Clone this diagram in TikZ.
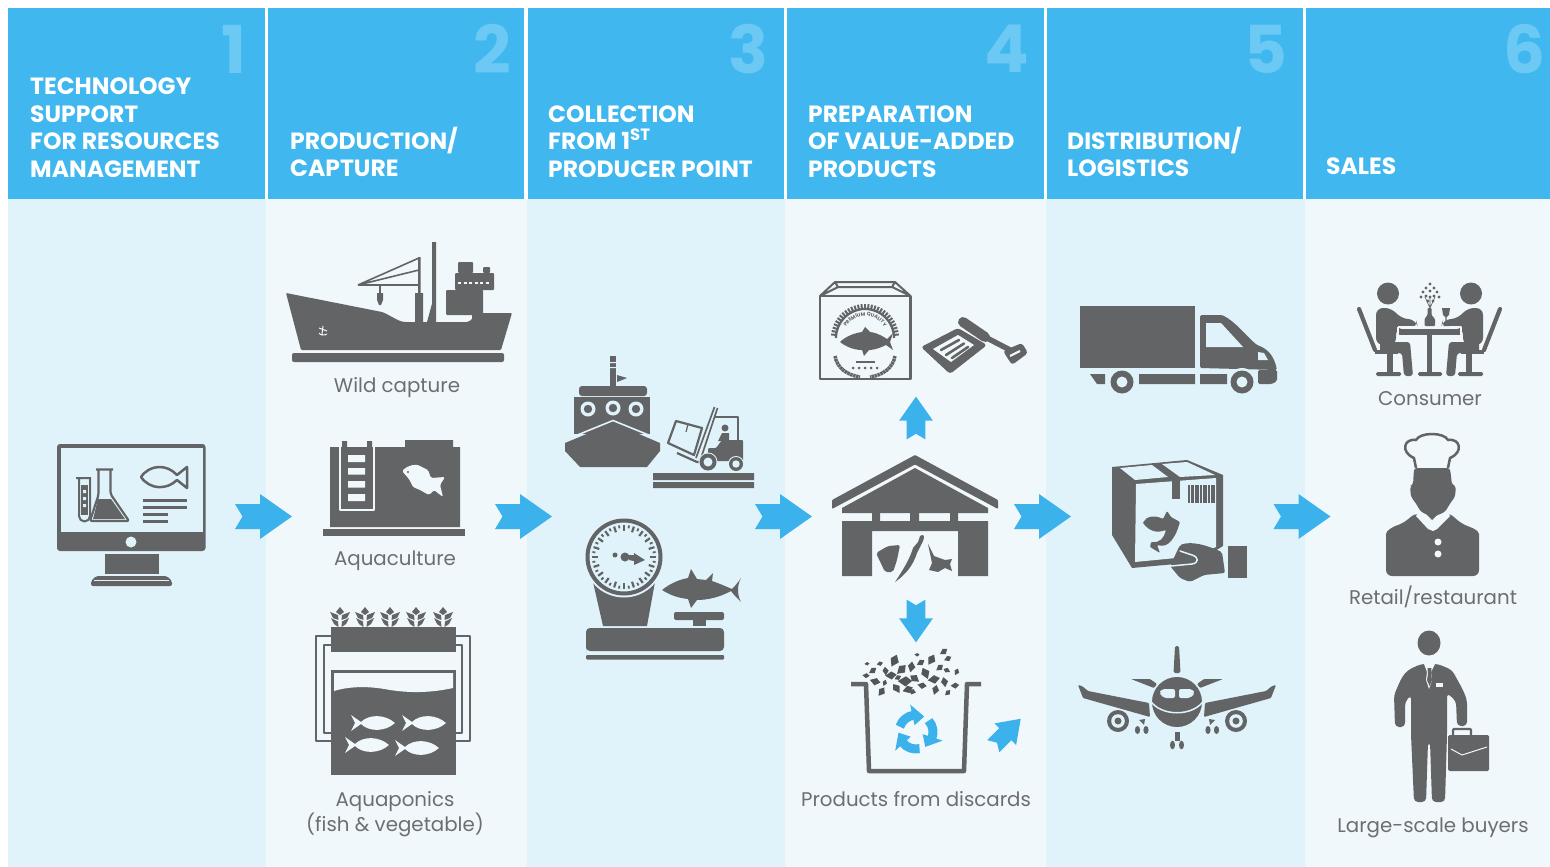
\documentclass[tikz,border=0pt]{standalone}
\usepackage{fontspec}
\setmainfont{Poppins}
\usetikzlibrary{decorations.text}
\definecolor{headblue}{HTML}{41B7EF}
\definecolor{numblue}{HTML}{6CC9F3}
\definecolor{paneA}{HTML}{E0F3FB}
\definecolor{paneB}{HTML}{F0F8FC}
\definecolor{icon}{HTML}{636466}
\definecolor{labelgray}{HTML}{6D6E71}
\definecolor{arrowblue}{HTML}{3CB2EC}
\tikzset{
  headbox/.style={fill=headblue,draw=none},
  headtext/.style={text=white,anchor=west,align=left,inner sep=0pt,font=\fontsize{23.5}{27.5}\selectfont\bfseries},
  numtext/.style={text=numblue,anchor=center,inner sep=0pt,font=\fontsize{66}{66}\selectfont\bfseries},
  labeltext/.style={text=labelgray,anchor=center,inner sep=0pt,font=\fontsize{19.8}{23}\selectfont},
  ic/.style={fill=icon,draw=none},
  icl/.style={draw=icon,fill=none},
}
\newcommand{\bluearrow}[4]{\begin{scope}[shift={(#1,#2)},rotate=#3,scale=#4]
  \fill[arrowblue] (-28.5,-12.5) -- (-3.5,-12.5) -- (-3.5,-22.5) -- (28.5,0) -- (-3.5,22.5) -- (-3.5,12.5) -- (-28.5,12.5) -- (-21,0) -- cycle;
\end{scope}}
\newcommand{\fishat}[5]{\begin{scope}[shift={(#1,#2)},xscale=#3,yscale=#4]
  \fill[#5] (22,0) .. controls (12,-9) and (-4,-9) .. (-12,-1) -- (-22,-8) -- (-18,0) -- (-22,8) -- (-12,1) .. controls (-4,9) and (12,9) .. (22,0) -- cycle;
\end{scope}}
\newcommand{\plantat}[1]{\begin{scope}[shift={(#1,607)}]
  \fill[icon] (0,0) -- (4,5) -- (0,8) -- (-4,5) -- cycle
   (-10,5) -- (-2,8) -- (-1.5,13) -- (-7,11) -- cycle (10,5) -- (2,8) -- (1.5,13) -- (7,11) -- cycle
   (-9,11) -- (-2,14.5) -- (-1.5,20) -- (-6,17) -- cycle (9,11) -- (2,14.5) -- (1.5,20) -- (6,17) -- cycle;
\end{scope}}
\begin{document}
\begin{tikzpicture}[x=1pt,y=-1pt,line join=round]
\useasboundingbox (0,0) rectangle (1550,867);
\fill[white] (0,0) rectangle (1550,867);
% panes
\fill[paneA] (8,199) rectangle (266,867);
\fill[paneB] (266,199) rectangle (527,867);
\fill[paneA] (527,199) rectangle (785,867);
\fill[paneB] (785,199) rectangle (1046,867);
\fill[paneA] (1046,199) rectangle (1305,867);
\fill[paneB] (1305,199) rectangle (1550,867);
% headers
\fill[headbox] (8,8) rectangle (265,199);
\fill[headbox] (268,8) rectangle (524,199);
\fill[headbox] (528,8) rectangle (784,199);
\fill[headbox] (787,8) rectangle (1044,199);
\fill[headbox] (1047,8) rectangle (1303,199);
\fill[headbox] (1306,8) rectangle (1550,199);
\node[numtext] (n1) at (234,49) {1};
\node[numtext] (n2) at (492,49) {2};
\node[numtext] (n3) at (748,49) {3};
\node[numtext] (n4) at (1007,49) {4};
\node[numtext] (n5) at (1266,49) {5};
\node[numtext] (n6) at (1525,49) {6};
\node[headtext] (h1) at (30,127.5) {TECHNOLOGY\\SUPPORT\\FOR RESOURCES\\MANAGEMENT};
\node[headtext] (h2) at (290,152) {PRODUCTION/\\CAPTURE};
\node[headtext] (h3) at (548,141.5) {COLLECTION\\FROM 1\textsuperscript{ST}\\PRODUCER POINT};
\node[headtext] (h4) at (808,141.5) {PREPARATION\\OF VALUE-ADDED\\PRODUCTS};
\node[headtext] (h5) at (1067,152) {DISTRIBUTION/\\LOGISTICS};
\node[headtext] (h6) at (1326,166) {SALES};
% labels
\node[labeltext] (l1) at (397,387.5) {Wild capture};
\node[labeltext] (l2) at (395,560.5) {Aquaculture};
\node[labeltext,align=center] (l3) at (395,814) {Aquaponics\\(fish \& vegetable)};
\node[labeltext] (l4) at (916,799) {Products from discards};
\node[labeltext] (l5) at (1430,399) {Consumer};
\node[labeltext] (l6) at (1433,597) {Retail/restaurant};
\node[labeltext] (l7) at (1433,827.5) {Large-scale buyers};
% main arrows
\bluearrow{263.5}{516.5}{0}{1}
\bluearrow{523.5}{516.5}{0}{1}
\bluearrow{783.5}{516.5}{0}{1}
\bluearrow{1042.5}{516.5}{0}{1}
\bluearrow{1302}{516.5}{0}{1}
\bluearrow{916}{418}{90}{.75}
\bluearrow{916}{621}{-90}{.75}
\bluearrow{1007}{732.5}{45}{.68}
% ===== monitor
\fill[ic,rounded corners=3] (57,444) rectangle (205.5,551);
\fill[paneA] (60.5,448) rectangle (202.5,532);
\fill[paneA] (131,542) circle (5.5);
\fill[ic] (105,554) rectangle (159,574);
\fill[ic,rounded corners=2] (96,576) -- (167,576) -- (172,581) -- (172,586) -- (91,586) -- (91,581) -- cycle;
\draw[paneA,line width=.8] (94,580.5) -- (169,580.5);
% tube and flask
\draw[icl,line width=2] (76,478) -- (91,478) (79,478) -- (79,516) arc[start angle=180,end angle=0,radius=5.5] -- (90,478);
\fill[ic] (81,485) rectangle (88,515);
\fill[paneA] (83,490) rectangle (86,493) (83,497) rectangle (86,500) (83,504) rectangle (86,507);
\fill[paneA,rounded corners=2] (95,469) -- (113,469) -- (110,472) -- (110,490) -- (129,520) -- (89,520) -- (98,500) -- (98,472) -- cycle;
\draw[icl,line width=2.2,rounded corners=2] (96,469.5) -- (113,469.5) (98.5,470) -- (98.5,495) -- (90,521) -- (129,521) -- (110.5,494) -- (110.5,470);
\fill[ic] (98,499) -- (111,499) -- (125,519) -- (93,519) -- cycle;
% fish outline
\draw[icl,line width=2.5] (141,477) .. controls (150,464) and (167,464) .. (177,475) -- (187,467) -- (187,488) -- (177,480) .. controls (167,490) and (150,490) .. (141,477) -- cycle;
\draw[icon,line width=3] (143,500) -- (187,500) (143,507) -- (187,507) (143,514) -- (168,514) (143,521) -- (168,521);
% ===== ship
\fill[ic,rounded corners=1] (286,293) -- (382,312) .. controls (392,316) and (398,322) .. (407,322) -- (466,322) .. controls (472,322) and (474,313) .. (481,313) -- (512,313) -- (501,350) -- (301,350) -- cycle;
\fill[ic,rounded corners=2] (292,353) rectangle (504,362);
\fill[ic] (432,242) rectangle (436,322) (415,293) rectangle (423,322) (418,257) rectangle (420.5,295);
\fill[ic] (433,300) -- (436,300) -- (432,322) -- (427,322) -- cycle;
\draw[icon,line width=1.6] (358,285) -- (419,258) (358,285) -- (419,270) (358,285) -- (419,285) (380,285) -- (380,293);
\fill[ic] (377,293) -- (383,293) -- (383,300) -- (381,305) -- (379,305) -- (377,300) -- cycle;
\fill[ic,rounded corners=1] (446,290) rectangle (483,315) (455,273) rectangle (494,290) (458,262) rectangle (473,273) (483,267) rectangle (490,273);
\fill[ic] (472,310) rectangle (482,322);
\draw[paneB,line width=1.3,dash pattern=on 3 off 2.5] (458,283) -- (490,283);
\draw[paneB,line width=1] (319,328) -- (327,331) (323,326) -- (322,334) (319,333) .. controls (320,335) and (324,336) .. (327,334);
% ===== aquaculture
\fill[ic] (330,447) -- (405,447) -- (405,440) -- (453,440) -- (453,447) -- (460,447) -- (460,527) -- (330,527) -- cycle;
\fill[ic] (323,529) rectangle (465,536);
\fill[ic] (342,441) rectangle (347,448) (367,441) rectangle (372,448);
\draw[paneB,line width=1.2] (340,445) -- (340,510) -- (374,510) -- (374,445);
\fill[paneB] (348,455) rectangle (365,462) (348,468) rectangle (365,474.5) (348,481) rectangle (365,487.5) (348,494) rectangle (365,501);
\draw[icon,line width=1.2] (345,507) -- (369,507);
\fill[paneB,rounded corners=1.5] (402,471) .. controls (408,465) and (416,464) .. (420,466) -- (428,470) -- (431,478) -- (445,477) -- (440,485) -- (443,497) -- (434,490) -- (429,495) -- (420,490) -- (413,487) -- (409,479) -- cycle;
\fill[icon] (408,472) circle (1.1);
% ===== aquaponics
\foreach \px in {340,365,390,416,443} {\plantat{\px}}
\draw[icl,line width=2.8] (331,636) -- (316,636) -- (316,741) -- (331,741) (331,645) -- (324,645) -- (324,733) -- (331,733);
\draw[icl,line width=2.8] (456,636) -- (470,636) -- (470,741) -- (456,741) (456,645) -- (462,645) -- (462,733) -- (456,733);
\fill[ic] (331,627) rectangle (456,652);
\fill[ic] (331,670) rectangle (456,775);
\fill[paneB] (334,673) -- (453,673) -- (453,688) .. controls (430,693) and (410,693) .. (390,690) .. controls (370,686) and (350,686) .. (334,691) -- cycle;
\fishat{373}{723}{1}{1}{paneB}
\fishat{424}{723}{1}{1}{paneB}
\fishat{367}{745}{1}{1}{paneB}
\fishat{417}{748}{1}{1}{paneB}
% ===== boat
\fill[ic] (610,356) rectangle (616,386);
\fill[paneA] (610,362) rectangle (616,363) (610,367) rectangle (616,368);
\fill[ic] (617,375) -- (627,378) -- (617,382) -- cycle;
\fill[ic,rounded corners=3] (579,386) rectangle (647,396);
\fill[ic] (574,397) rectangle (650,434);
\foreach \hx/\hy in {588/409,613/408,636/409} {\fill[paneA] (\hx,\hy) circle (7.5); \fill[icon] (\hx,\hy) circle (4.2);}
\fill[ic] (613,423) -- (660,443) -- (660,451) -- (647,467) -- (580,467) -- (565,451) -- (565,443) -- cycle;
\draw[paneA,line width=1.6] (570,438) -- (613,420.5) -- (656,438);
% forklift
\fill[ic] (653,473) rectangle (754,480) (653,482) rectangle (754,488);
\draw[icon,line width=2.8] (715,417) -- (738,417) -- (738,442);
\fill[ic,rounded corners=1] (722,440) -- (743,440) -- (743,461) -- (708,461) -- (708,448) -- (716,448) -- cycle;
\fill[ic] (725,428) circle (3.5);
\fill[ic] (718,441) -- (722,433) -- (729,433) -- (729,441) -- cycle;
\draw[paneA,line width=2.6] (715,408) -- (697,458);
\draw[icon,line width=1.7] (714.5,407) -- (696,458) (717.5,408) -- (701,458);
\draw[icon,line width=2.2] (677,453) -- (697,462) -- (708,462);
\fill[paneA] (676,421) -- (702,428) -- (694,455) -- (668,443) -- cycle;
\draw[icl,line width=2.2] (676,421) -- (702,428) -- (694,455) -- (668,443) -- cycle;
\draw[icon,line width=1.2] (688,424) -- (686,432);
\fill[paneA] (708,462) circle (9.5);\fill[icon] (708,462) circle (8.5);\fill[paneA] (708,462) circle (4.5);
\fill[paneA] (736,464) circle (8);\fill[icon] (736,464) circle (7);\fill[paneA] (736,464) circle (3.7);
% ===== scale
\fill[ic] (593,582) -- (655,582) -- (647,626) -- (603,626) -- cycle;
\fill[paneA] (624,557) circle (40.5);
\draw[icl,line width=4] (624,557) circle (36.5);
\foreach \ta in {0,18,...,342} {\draw[icon,line width=2.2] (624,557) ++(\ta:32) -- ++(\ta:-6);}
\foreach \ta in {9,27,...,351} {\draw[icon,line width=1.8] (624,557) ++(\ta:32) -- ++(\ta:-3);}
\fill[ic] (625,557) circle (4.5) (615,555) circle (2.5);
\fill[ic] (629,555) -- (634,555) -- (634,553) -- (645,560) -- (634,565) -- (634,561) -- (629,560) -- cycle;
\fill[ic,rounded corners=4] (586,650) -- (586,628) -- (724,628) -- (724,651) -- (586,651) -- cycle;
\fill[ic,rounded corners=1] (586,655) rectangle (724,659.5);
\fill[ic,rounded corners=2] (674,612) rectangle (724,620);
\fill[ic] (693,619) rectangle (706,626);
\fill[ic] (662,590) .. controls (672,582) and (682,579) .. (688,578) -- (691,569) -- (697,579) -- (706,580) -- (713,573) -- (712,581) .. controls (718,583) and (725,586) .. (732,589) .. controls (736,585) and (739,581) .. (741,578) .. controls (737,585) and (737,595) .. (741,602) .. controls (737,598) and (734,595) .. (731,591) .. controls (720,597) and (708,600) .. (697,600) -- (691,608) -- (688,599) .. controls (678,598) and (670,595) .. (662,590) -- cycle;
% ===== value-added box
\draw[icl,line width=2.8] (820,296) rectangle (910.5,379);
\draw[icl,line width=2] (820,296) -- (835,282) -- (895,282) -- (910.5,296) (835,282) -- (838,287) -- (892,287) -- (895,282) (838,287) -- (820,296) (892,287) -- (910.5,296);
\draw[icon,line width=2.2] (836,338) arc[start angle=180,end angle=360,radius=29];
\foreach \ga in {186,192,...,354} {\draw[icon,line width=2] (865,338) ++(\ga:29) -- ++(\ga:5);}
\path[decorate,decoration={text along path,text={|\fontsize{5}{5}\selectfont\bfseries\color{icon}|PREMIUM QUALITY},text align={center}}] (843,338) arc[start angle=180,end angle=360,radius=22];
\fill[ic] (865,327) -- (870,332) .. controls (878,333) and (884,337) .. (887,339) -- (893,333) -- (890,342) -- (893,350) -- (886,345) .. controls (880,348) and (874,350) .. (869,350) -- (864,356) -- (862,350) .. controls (853,350) and (845,346) .. (840,342) .. controls (846,336) and (855,333) .. (862,332) -- cycle;
\foreach \da in {0,1,2,3,4} {\fill[ic] (853+\da*6,368) circle (1.5);}
\fill[ic] (856,361) rectangle (875,363);
\draw[icon,line width=3.5,dash pattern=on 2.5 off .6] (835,356) .. controls (837,368) and (847,375) .. (860,377);
\draw[icon,line width=3.5,dash pattern=on 2.5 off .6] (895,356) .. controls (893,368) and (883,375) .. (870,377);
% sardine can
\fill[ic,rounded corners=3] (921,347) -- (958,328) -- (987,345) -- (950,374) -- cycle;
\fill[paneB] (933,349) -- (958,335) -- (974,345) -- (951,362) -- cycle;
\draw[icon,line width=2.6,line cap=round] (941,350) -- (959,340) (946,355) -- (964,343.5) (952,358) -- (968,347);
\draw[icon,line width=10,line cap=round] (963,322) -- (985,337);
\draw[icon,line width=5.5] (985,337) -- (1012,351);
\fill[ic,rounded corners=3] (1003,351) -- (1022,343) -- (1028,353) -- (1012,365) -- cycle;
\draw[paneB,line width=2.2] (1010,356) -- (1020,351);
% warehouse
\fill[ic,rounded corners=1] (915,455) -- (998,500) -- (998,509) -- (915,464.5) -- (832,509) -- (832,500) -- cycle;
\fill[ic] (915,468) -- (988,508) -- (988,513) -- (842,513) -- (842,508) -- cycle;
\fill[ic] (872,513) rectangle (880,521) (910,513) rectangle (919,521) (950,513) rectangle (958,521);
\fill[ic] (842,521) rectangle (988,531) (842,531) rectangle (872,576) (958,531) rectangle (988,576);
\fill[ic,rounded corners=2] (876,553) -- (888,546) -- (900,545) -- (897,560) -- (893,572) -- (885,572) -- cycle;
\fill[ic] (895,582) .. controls (905,567) and (910,558) .. (913,548) -- (918,542) -- (920,536) .. controls (924,533) and (925,537) .. (923,541) -- (919,549) -- (917,553) .. controls (913,566) and (905,575) .. (895,582) -- cycle;
\fill[ic] (928,544) -- (934,556) -- (945,560) -- (952,559) -- (950,564) -- (952,571) -- (945,568) -- (938,572) -- (929,570) -- (932,563) -- cycle;
% ===== bucket
\draw[icl,line width=4.5] (851,684) -- (866,684) -- (869,771) -- (964,771) -- (967,684) -- (981,684);
\foreach \dx/\dy/\da/\ds in {866/676/10/1.0,873/671/50/1.2,875/682/0/1.5,880/664/30/.9,882/692/70/1.4,886/671/110/1.2,891/676/20/1.6,895/661/80/1.8,897/688/140/1.5,902/670/60/1.7,905/682/15/2,908/690/35/1.5,912/667/95/1.5,915/678/160/1.5,921/663/45/1.2,922/686/5/1.3,926/673/130/1.7,932/660/75/1.6,934/680/25/1.7,936/690/90/1.4,940/668/55/1.2,945/682/115/1.4,948/659/40/1.1,947/670/170/1,955/686/20/1.2,957/672/80/1,948/693/60/1,867/664/20/.7,917/655/10/.7,944/652/50/1.2,885/683/85/.9,898/678/40/1,912/692/0/1.1} {
 \begin{scope}[shift={(\dx,\dy)},rotate=\da,scale=\ds]
 \fill[icon!85!black] (-3.4,-1.4) -- (1.2,-2.6) -- (3.6,.4) -- (-.4,2.2) -- cycle;
 \end{scope}}
\begin{scope}[shift={(916,732)}]
\foreach \rr in {0,120,240} {
 \draw[arrowblue,line width=9] (\rr+198:17) arc[start angle=\rr+198,end angle=\rr+262,radius=17];
 \fill[arrowblue] (\rr+258:28) -- (\rr+258:7) -- (\rr+298:17.5) -- cycle;
}
\end{scope}
% ===== truck
\fill[ic] (1080,306) rectangle (1195,368);
\fill[ic,rounded corners=1.5] (1200,368) -- (1200,315) -- (1222,315) .. controls (1236,322) and (1246,336) .. (1257,345) .. controls (1268,349) and (1274,356) .. (1277,370) -- cycle;
\fill[paneA] (1206,323) -- (1221,323) -- (1243,347) -- (1206,347) -- cycle;
\fill[paneA] (1258,352) -- (1264,353) -- (1268,360) -- (1258,360) -- cycle;
\fill[ic] (1090,374) -- (1105,374) -- (1105,384) -- (1097,384) -- cycle;
\fill[ic] (1139,374) rectangle (1195,384) (1200,374) rectangle (1227,384);
\fill[ic,rounded corners=1.5] (1258,370) -- (1277,370) -- (1277,381) -- (1272,384) -- (1258,384) -- cycle;
\foreach \wx in {1122,1242} {\fill[paneA] (\wx,382) circle (14);\fill[icon] (\wx,382) circle (11.5);\fill[paneA] (\wx,382) circle (5.5);}
% ===== parcel
\fill[ic] (1112,467) -- (1187,460) -- (1223,475) -- (1223,546) -- (1197,562) -- (1132,568) -- (1112,535) -- cycle;
\fill[paneA] (1136,484) -- (1216,478) -- (1216,547) -- (1197,556) -- (1135,562) -- cycle;
\fill[paneA] (1120,468) -- (1152,465) -- (1168,477) -- (1135,480) -- cycle (1162,464) -- (1187,462) -- (1215,475) -- (1180,477) -- cycle;
\fill[ic] (1172,479) rectangle (1180,499);
\foreach \bx/\bw in {1188/2,1191/3,1195/4,1200/2,1203/4,1208/2,1211/4} {\fill[ic] (\bx,485) rectangle (\bx+\bw,503);}
\fill[ic,rounded corners=1] (1143,523) .. controls (1146,516) and (1155,515) .. (1163,519) -- (1167,511) -- (1171,517) -- (1180,522) .. controls (1178,528) and (1176,536) .. (1169,543) .. controls (1165,546) and (1161,546) .. (1157,545) -- (1160,553) -- (1150,547) -- (1151,542) .. controls (1160,543) and (1164,538) .. (1166,530) .. controls (1158,533) and (1150,532) .. (1143,523) -- cycle;
\fill[ic,rounded corners=2] (1180,545) .. controls (1192,541) and (1206,545) .. (1222,552) -- (1225,573) -- (1204,575) -- (1190,582) -- (1180,578) -- (1170,566) -- cycle;
\draw[paneA,line width=1.5,line cap=round] (1180,551) -- (1192,555) .. controls (1199,557) and (1199,563) .. (1192,564) -- (1171,566);
\fill[ic] (1228,546) rectangle (1247,578);
% ===== plane
\begin{scope}
\foreach \mir in {0,1} {
\begin{scope}[shift={(2354*\mir,0)},xscale=1-2*\mir]
\fill[ic,rounded corners=1] (1078,685) -- (1082,686) -- (1088,691) -- (1149,703) -- (1150,717) -- (1083,698) -- cycle;
\fill[ic,rounded corners=1] (1131,679) -- (1150,679) -- (1157,684) -- (1154,688) -- cycle;
\fill[ic] (1118,721) circle (11);\fill[paneA] (1118,721) circle (6.8);\fill[icon] (1118,721) circle (3.5);
\fill[ic] (1139,720) -- (1145,719) -- (1144,725) -- cycle;
\fill[ic] (1137.5,730) circle[x radius=2.6,y radius=4] (1146,730) circle[x radius=2.6,y radius=4];
\end{scope}}
\end{scope}
\fill[ic,rounded corners=1.5] (1173.5,673) -- (1175,646) -- (1179,646) -- (1180.5,673) -- cycle;
\fill[ic] (1177,702) circle (25);
\draw[paneA,line width=1.5] (1150,700) .. controls (1160,717) and (1194,717) .. (1204,700);
\fill[paneA,rounded corners=2] (1159,693) -- (1162,689) -- (1175,689) -- (1175,698) -- (1164,698) -- cycle;
\fill[paneA,rounded corners=2] (1195,693) -- (1192,689) -- (1179,689) -- (1179,698) -- (1190,698) -- cycle;
\fill[ic] (1174.5,732) rectangle (1179.5,741);
\fill[ic] (1172.5,745) circle[x radius=2.5,y radius=4.3] (1181.5,745) circle[x radius=2.5,y radius=4.3];
% ===== diners
\foreach \mir in {0,1} {
\begin{scope}[shift={(2859*\mir,0)},xscale=1-2*\mir]
\fill[ic] (1388,293.5) circle (11);
\draw[icon,line width=4.2,line cap=round] (1359,309) -- (1375,350);
\fill[ic,rounded corners=7] (1376,308) -- (1392,308) -- (1400,318) -- (1416,320) -- (1418,327) -- (1396,328) -- (1396,345) -- (1376,345) -- cycle;
\fill[ic,rounded corners=3] (1380,342) -- (1410,342) -- (1413,376) -- (1404,376) -- (1402,353) -- (1380,353) -- cycle;
\draw[icon,line width=4] (1375,352) -- (1398,352);
\fill[ic] (1387,354) rectangle (1393,372);
\fill[ic,rounded corners=1.5] (1376,372) rectangle (1401,376);
\end{scope}}
\fill[ic] (1398,329) rectangle (1461,335);
\draw[paneB,line width=1.1] (1398,327) -- (1461,327) -- (1461,336) (1398,327) -- (1398,336);
\fill[ic] (1426.5,335) rectangle (1432,374);
\fill[ic,rounded corners=1.5] (1418,372) rectangle (1442,376);
\fill[ic,rounded corners=1] (1427.5,308) -- (1431.5,308) -- (1431.5,315) -- (1435,319) -- (1435,326) -- (1424.5,326) -- (1424.5,319) -- (1427.5,315) -- cycle;
\foreach \fx/\fy in {1430/284,1426/288,1434/288,1423/292,1430/291,1437/292,1426/296,1434/296,1430/297,1421/297,1439/297,1428/301,1433/301} {\fill[icon] (\fx,\fy) circle (1.6);}
\draw[icon,line width=.7] (1430,308) -- (1430,297) (1430,308) -- (1425,297) (1430,308) -- (1435,297);
\fill[ic] (1442,308) -- (1450,308) -- (1449,315) -- (1446.7,317) -- (1446.7,324) -- (1449,326) -- (1443,326) -- (1445.3,324) -- (1445.3,317) -- (1443,315) -- cycle;
% ===== chef
\fill[paneB] (1416,468) -- (1414,458) .. controls (1400,452) and (1404,438) .. (1416,440) .. controls (1420,432) and (1444,432) .. (1448,440) .. controls (1460,438) and (1464,452) .. (1450,458) -- (1448,468) -- cycle;
\draw[icl,line width=2.5] (1416,468) -- (1414,458) .. controls (1400,452) and (1404,438) .. (1416,440) .. controls (1420,432) and (1444,432) .. (1448,440) .. controls (1460,438) and (1464,452) .. (1450,458) -- (1448,468);
\fill[ic,rounded corners=3] (1414,468) -- (1450,468) -- (1452,485) -- (1456,486) -- (1455,497) -- (1451,502) -- (1445,512) -- (1433,517) -- (1421,512) -- (1415,502) -- (1411,497) -- (1410,486) -- (1413,485) -- cycle;
\fill[ic,rounded corners=6] (1386,576) -- (1386,540) .. controls (1386,530) and (1395,526) .. (1402,524) -- (1417,512) -- (1433,530) -- (1448,512) -- (1462,524) .. controls (1470,527) and (1479,530) .. (1479,540) -- (1479,576) -- cycle;
\fill[paneB] (1419,512) -- (1433,522) -- (1447,512) -- (1450,516) -- (1437,529) -- (1433,531) -- (1428,529) -- (1416,516) -- cycle;
\fill[ic] (1422,510) -- (1442,510) -- (1432,520) -- cycle;
\fill[paneB] (1438,542) circle (3.5) (1438,554) circle (3.5);
% ===== businessman
\fill[ic] (1429,643) ellipse [x radius=11.5,y radius=12.5];
\fill[ic,rounded corners=4] (1421,664) -- (1438,664) -- (1452,670) -- (1463,690) -- (1467,700) -- (1467,726) -- (1457,726) -- (1456,701) -- (1447,693) -- (1447,735) -- (1445,802) -- (1432,802) -- (1430,742) -- (1428,742) -- (1426,802) -- (1414,802) -- (1411,735) -- (1411,695) -- (1405,702) -- (1405,727) -- (1395,727) -- (1394,695) -- (1402,677) -- (1408,670) -- cycle;
\fill[paneB] (1424,664) -- (1435,664) -- (1431,672) -- (1432,680) -- (1429,689) -- (1426,680) -- (1427,672) -- cycle;
\fill[ic] (1427.5,668) -- (1431.5,668) -- (1431,674) -- (1432,680) -- (1429.5,686) -- (1427,680) -- (1428,674) -- cycle;
\fill[paneB] (1436,683) rectangle (1443,687);
\draw[icl,line width=2.2,rounded corners=1] (1453,736) -- (1453,729) -- (1471,729) -- (1471,736);
\fill[paneB] (1458,730.5) rectangle (1468,733);
\fill[ic,rounded corners=1.5] (1448,735) rectangle (1489,771);
\draw[paneB,line width=1] (1451,749) -- (1462,755) -- (1487,747);
\end{tikzpicture}
\end{document}
